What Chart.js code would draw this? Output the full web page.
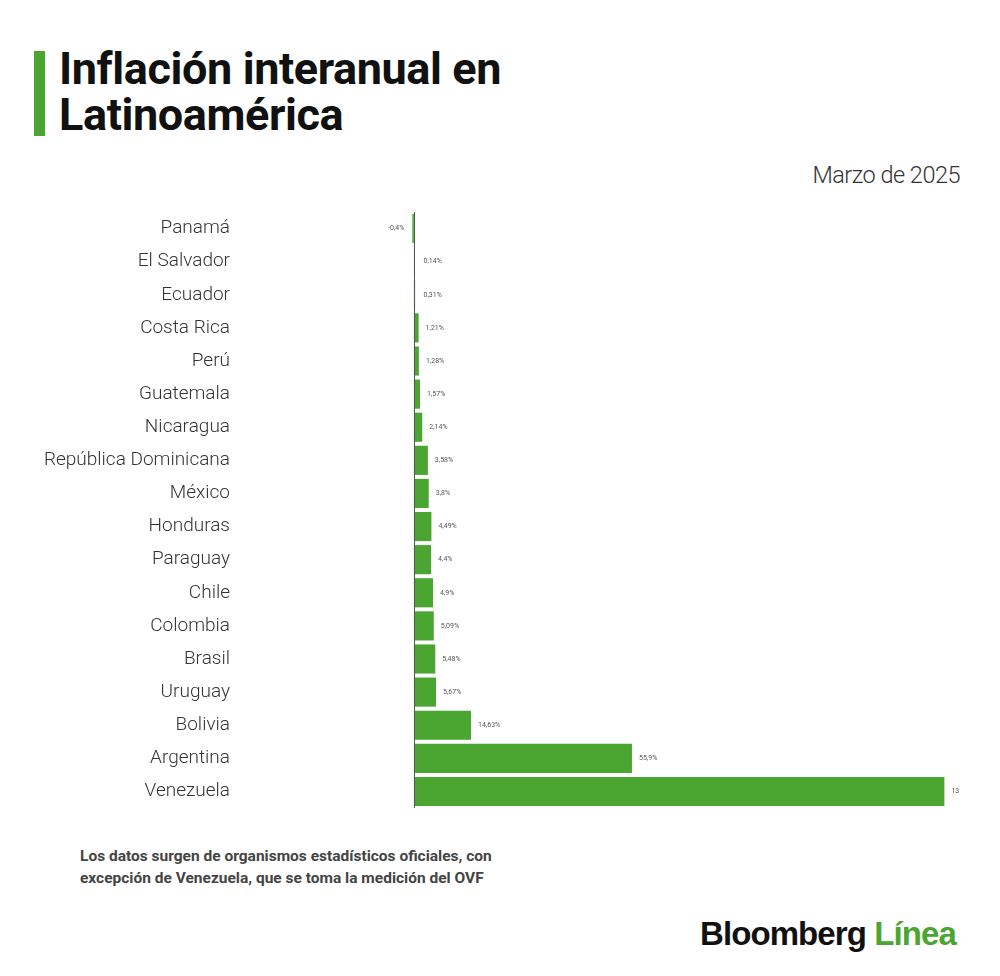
<!DOCTYPE html>
<html lang="es">
<head>
    <meta charset="UTF-8">
    <title>Inflación interanual en Latinoamérica</title>
    <style>
        body {
            margin: 0;
            width: 1000px;
            height: 976px;
            background: #ffffff;
            font-family: Roboto, Arial, sans-serif;
            position: relative;
            overflow: hidden;
        }
        .title-bar {
            position: absolute;
            left: 34px;
            top: 51px;
            width: 11px;
            height: 85px;
            background: #4aa531;
        }
        h1 {
            position: absolute;
            left: 59px;
            top: 46px;
            margin: 0;
            font-size: 45px;
            line-height: 46px;
            font-weight: 700;
            color: #111;
            letter-spacing: -0.4px;
        }
        .subtitle {
            position: absolute;
            right: 40px;
            top: 161px;
            font-size: 23.5px;
            font-weight: 300;
            color: #333;
            letter-spacing: -0.5px;
        }
        .chart-box {
            position: absolute;
            left: 0;
            top: 202px;
        }
        .note {
            position: absolute;
            left: 80px;
            top: 845px;
            font-size: 15.5px;
            line-height: 22px;
            font-weight: 700;
            color: #444;
        }
        .logo {
            position: absolute;
            right: 44px;
            top: 915px;
            font-family: "Liberation Sans", Arial, sans-serif;
            font-size: 33px;
            font-weight: 700;
            color: #111;
            letter-spacing: -0.9px;
        }
        .logo span { color: #4aa531; }
    </style>
</head>
<body>
    <div class="title-bar"></div>
    <h1>Inflación interanual en<br>Latinoamérica</h1>
    <div class="subtitle">Marzo de 2025</div>

    <div class="chart-box">
        <canvas id="barChart" width="1000" height="620"></canvas>
    </div>

    <div class="note">Los datos surgen de organismos estadísticos oficiales, con<br>excepción de Venezuela, que se toma la medición del OVF</div>
    <div class="logo">Bloomberg <span>Línea</span></div>

    <script src="https://cdn.jsdelivr.net/npm/chart.js@4.4.1/dist/chart.umd.min.js"></script>
    <script>
        // Datos
        var countries = ['Panamá', 'El Salvador', 'Ecuador', 'Costa Rica', 'Perú', 'Guatemala', 'Nicaragua',
            'República Dominicana', 'México', 'Honduras', 'Paraguay', 'Chile', 'Colombia', 'Brasil',
            'Uruguay', 'Bolivia', 'Argentina', 'Venezuela'];
        var inflation = [-0.4, 0.14, 0.31, 1.21, 1.28, 1.57, 2.14, 3.58, 3.8, 4.49, 4.4, 4.9, 5.09, 5.48, 5.67, 14.63, 55.9, 136];
        var valueLabels = ['-0,4%', '0,14%', '0,31%', '1,21%', '1,28%', '1,57%', '2,14%', '3,58%', '3,8%', '4,49%',
            '4,4%', '4,9%', '5,09%', '5,48%', '5,67%', '14,63%', '55,9%', '13'];

        var green = '#4aa531';

        // Value labels next to each bar + zero line
        var barLabels = {
            id: 'barLabels',
            afterDatasetsDraw: function(chart) {
                var ctx = chart.ctx;
                var xScale = chart.scales.x;
                var area = chart.chartArea;
                var zero = Math.round(xScale.getPixelForValue(0)) + 0.5;
                ctx.save();
                ctx.strokeStyle = '#555';
                ctx.lineWidth = 1;
                ctx.beginPath();
                ctx.moveTo(zero, area.top);
                ctx.lineTo(zero, area.bottom);
                ctx.stroke();

                ctx.font = '7px Roboto, sans-serif';
                ctx.fillStyle = '#555';
                ctx.textBaseline = 'middle';
                chart.getDatasetMeta(0).data.forEach(function(bar, i) {
                    if (inflation[i] < 0) {
                        ctx.textAlign = 'right';
                        ctx.fillText(valueLabels[i], bar.x - 8, bar.y);
                    } else {
                        ctx.textAlign = 'left';
                        ctx.fillText(valueLabels[i], Math.max(bar.x, zero + 2) + 7, bar.y);
                    }
                });
                ctx.restore();
            }
        };

        var ctx1 = document.getElementById('barChart').getContext('2d');
        var barChart = new Chart(ctx1, {
            type: 'bar',
            data: {
                labels: countries,
                datasets: [{
                    data: inflation,
                    backgroundColor: green,
                    borderWidth: 0,
                    barPercentage: 0.88,
                    categoryPercentage: 1
                }]
            },
            options: {
                indexAxis: 'y',
                responsive: false,
                animation: false,
                layout: {
                    padding: { top: 10, bottom: 14, right: 40, left: 0 }
                },
                plugins: {
                    legend: { display: false },
                    tooltip: { enabled: false }
                },
                scales: {
                    x: {
                        display: false,
                        min: -1,
                        max: 140
                    },
                    y: {
                        grid: { display: false, drawTicks: false },
                        border: { display: false },
                        ticks: {
                            color: '#333',
                            padding: 180,
                            font: { family: 'Roboto', size: 19, weight: 300 }
                        },
                        afterFit: function(scale) {
                            // keep the big label gap horizontal only
                            scale.width = 410;
                            scale.paddingTop = 0;
                            scale.paddingBottom = 0;
                        }
                    }
                }
            },
            plugins: [barLabels]
        });
    </script>
</body>
</html>
